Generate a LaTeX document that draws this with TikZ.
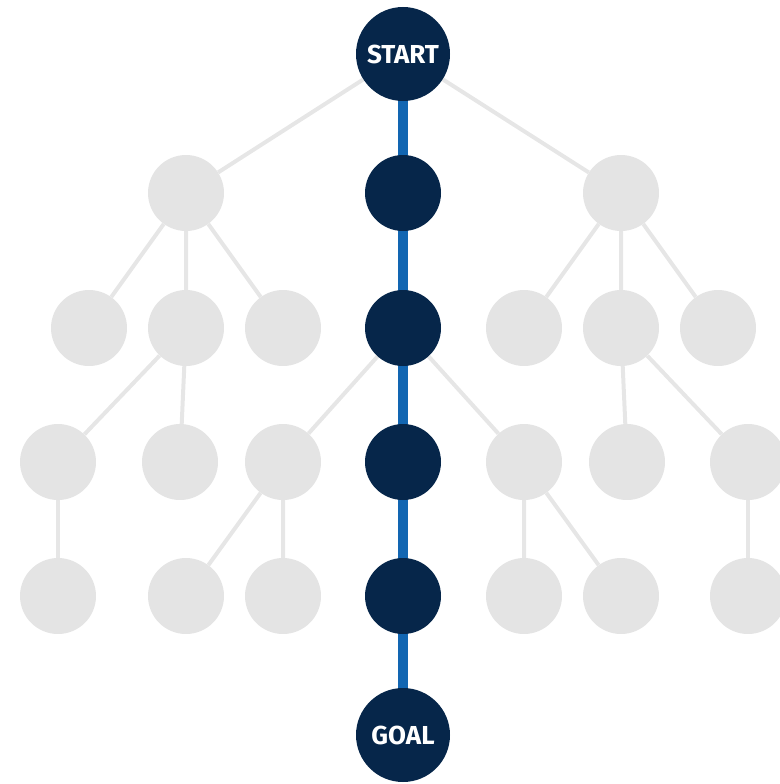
\documentclass[tikz,border=0pt]{standalone}
\usepackage{fontspec}
\setmainfont{Fira Sans}
\usetikzlibrary{backgrounds}
\begin{document}
\begin{tikzpicture}[x=1pt,y=-1pt,
  every node/.style={circle,inner sep=0pt},
  idle/.style={fill=nodegray,minimum size=76pt},
  path/.style={fill=navy,minimum size=76pt},
  endpt/.style={fill=navy,minimum size=94pt,text=white,font=\bfseries\fontsize{26}{26}\selectfont},
  tie/.style={draw=linegray,line width=4pt},
  route/.style={draw=routeblue,line width=10pt}]
\definecolor{nodegray}{HTML}{E4E4E4}
\definecolor{linegray}{HTML}{E6E6E6}
\definecolor{navy}{HTML}{06264A}
\definecolor{routeblue}{HTML}{1266B2}
\useasboundingbox (0,0) rectangle (779,784);

% main route
\node[endpt] (start) at (403,54) {START};
\node[path] (p1) at (403,193) {};
\node[path] (p2) at (403,328) {};
\node[path] (p3) at (403,462) {};
\node[path] (p4) at (403,596) {};
\node[endpt] (goal) at (403,735) {GOAL};

% side branches
\node[idle] (l1) at (186,193) {};
\node[idle] (r1) at (621,193) {};
\node[idle] (l2a) at (89,328) {};
\node[idle] (l2b) at (186,328) {};
\node[idle] (l2c) at (283,328) {};
\node[idle] (r2a) at (524,328) {};
\node[idle] (r2b) at (621,328) {};
\node[idle] (r2c) at (718,328) {};
\node[idle] (l3a) at (58,462) {};
\node[idle] (l3b) at (180,462) {};
\node[idle] (l3c) at (283,462) {};
\node[idle] (r3a) at (524,462) {};
\node[idle] (r3b) at (627,462) {};
\node[idle] (r3c) at (748,462) {};
\node[idle] (l4a) at (58,596) {};
\node[idle] (l4b) at (186,596) {};
\node[idle] (l4c) at (283,596) {};
\node[idle] (r4a) at (524,596) {};
\node[idle] (r4b) at (621,596) {};
\node[idle] (r4c) at (748,596) {};

% connectors, kept behind the circles
\begin{scope}[on background layer]
\path[tie] (start) -- (l1) (start) -- (r1);
\path[tie] (l1) -- (l2a) (l1) -- (l2b) (l1) -- (l2c);
\path[tie] (r1) -- (r2a) (r1) -- (r2b) (r1) -- (r2c);
\path[tie] (l2b) -- (l3a) (l2b) -- (l3b);
\path[tie] (p2) -- (l3c) (p2) -- (r3a);
\path[tie] (r2b) -- (r3b) (r2b) -- (r3c);
\path[tie] (l3a) -- (l4a);
\path[tie] (l3c) -- (l4b) (l3c) -- (l4c);
\path[tie] (r3a) -- (r4a) (r3a) -- (r4b);
\path[tie] (r3c) -- (r4c);
\path[route] (start) -- (goal);
\end{scope}
\end{tikzpicture}
\end{document}
